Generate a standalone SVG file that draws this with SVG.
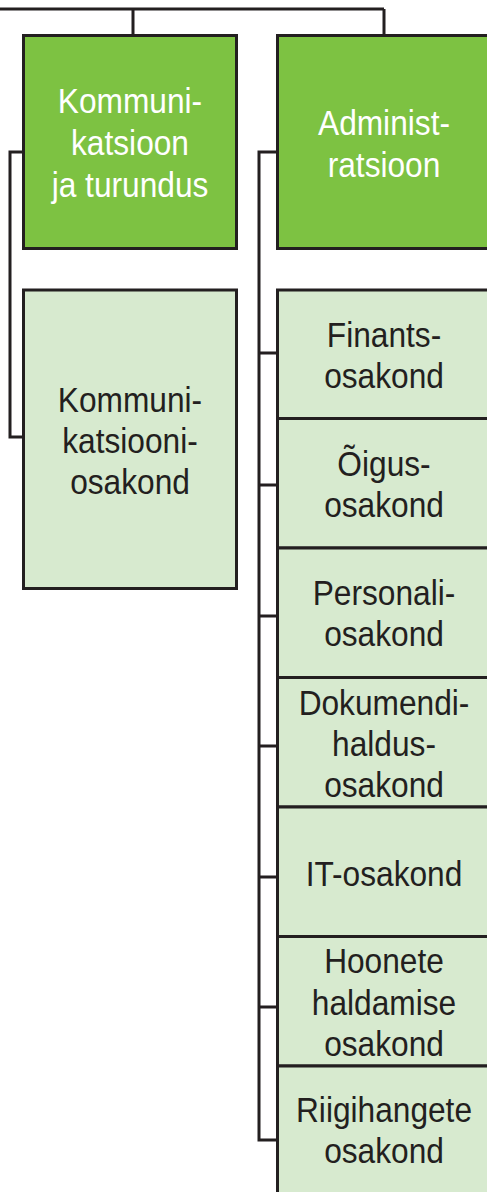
<svg xmlns="http://www.w3.org/2000/svg" width="487" height="1192" viewBox="0 0 487 1192">
<style>
.dark{fill:#7dc242;stroke:#231f20;stroke-width:3}
.light{fill:#d7eacf;stroke:#231f20;stroke-width:3}
.conn{fill:none;stroke:#231f20;stroke-width:3}
text{font-family:"Liberation Sans",Arial,sans-serif;font-size:36px;text-anchor:middle}
.w{fill:#ffffff}
.b{fill:#231f20}
</style>
<rect width="487" height="1192" fill="#ffffff"/>
<g id="connectors">
<path class="conn" d="M0,9 H384 M133,9 V35 M384,9 V35"/>
<path class="conn" d="M23,152 H10 V437 H23"/>
<path class="conn" d="M277,152 H259 V1140 H277 M259,353 H277 M259,485 H277 M259,616 H277 M259,746 H277 M259,877 H277 M259,1007 H277"/>
</g>
<g id="kommunikatsioon-ja-turundus">
<rect class="dark" x="23.5" y="35.5" width="213" height="213"/>
<text class="w" transform="translate(130,0) scale(0.88,1)"><tspan x="0" y="113">Kommuni-</tspan><tspan x="0" y="155">katsioon</tspan><tspan x="0" y="197">ja turundus</tspan></text>
</g>
<g id="administratsioon">
<rect class="dark" x="277.5" y="35.5" width="220" height="213"/>
<text class="w" transform="translate(384,0) scale(0.88,1)"><tspan x="0" y="135">Administ-</tspan><tspan x="0" y="177">ratsioon</tspan></text>
</g>
<g id="kommunikatsiooniosakond">
<rect class="light" x="23.5" y="290" width="213" height="298.5"/>
<text class="b" transform="translate(130,0) scale(0.88,1)"><tspan x="0" y="412">Kommuni-</tspan><tspan x="0" y="453">katsiooni-</tspan><tspan x="0" y="494">osakond</tspan></text>
</g>
<g id="finantsosakond">
<rect class="light" x="277.5" y="290" width="220" height="128.5"/>
<text class="b" transform="translate(384,0) scale(0.88,1)"><tspan x="0" y="347">Finants-</tspan><tspan x="0" y="388">osakond</tspan></text>
</g>
<g id="oigusosakond">
<rect class="light" x="277.5" y="418.5" width="220" height="129.5"/>
<text class="b" transform="translate(384,0) scale(0.88,1)"><tspan x="0" y="476">Õigus-</tspan><tspan x="0" y="517">osakond</tspan></text>
</g>
<g id="personaliosakond">
<rect class="light" x="277.5" y="548" width="220" height="129.5"/>
<text class="b" transform="translate(384,0) scale(0.88,1)"><tspan x="0" y="605">Personali-</tspan><tspan x="0" y="646">osakond</tspan></text>
</g>
<g id="dokumendihaldusosakond">
<rect class="light" x="277.5" y="677.5" width="220" height="129.5"/>
<text class="b" transform="translate(384,0) scale(0.88,1)"><tspan x="0" y="715">Dokumendi-</tspan><tspan x="0" y="756">haldus-</tspan><tspan x="0" y="797">osakond</tspan></text>
</g>
<g id="it-osakond">
<rect class="light" x="277.5" y="807" width="220" height="129.5"/>
<text class="b" transform="translate(384,0) scale(0.88,1)"><tspan x="0" y="886">IT-osakond</tspan></text>
</g>
<g id="hoonete-haldamise-osakond">
<rect class="light" x="277.5" y="936.5" width="220" height="129.5"/>
<text class="b" transform="translate(384,0) scale(0.88,1)"><tspan x="0" y="973">Hoonete</tspan><tspan x="0" y="1015">haldamise</tspan><tspan x="0" y="1056">osakond</tspan></text>
</g>
<g id="riigihangete-osakond">
<rect class="light" x="277.5" y="1066" width="220" height="140"/>
<text class="b" transform="translate(384,0) scale(0.88,1)"><tspan x="0" y="1122">Riigihangete</tspan><tspan x="0" y="1163">osakond</tspan></text>
</g>
</svg>
